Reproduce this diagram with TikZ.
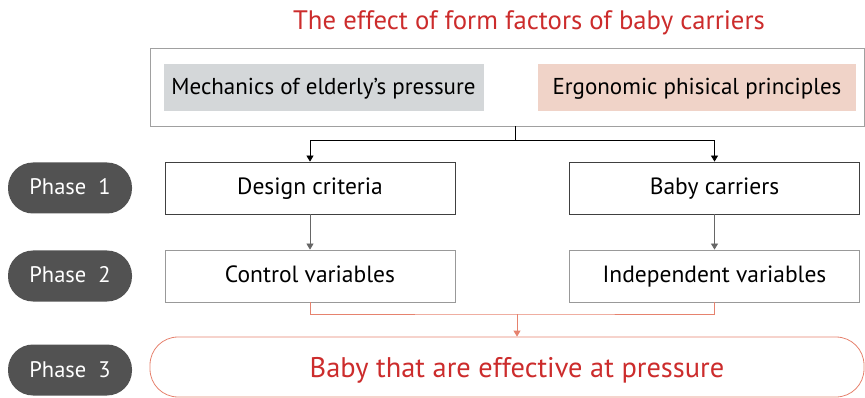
\documentclass[tikz,border=0pt]{standalone}
\usepackage{fontspec}
\setmainfont{PT Sans}
\usetikzlibrary{arrows.meta}

\definecolor{headred}{RGB}{204,44,44}
\definecolor{phasegray}{RGB}{82,82,82}
\definecolor{mechgray}{RGB}{212,215,217}
\definecolor{ergopink}{RGB}{240,211,200}
\definecolor{linkpink}{RGB}{230,130,110}
\definecolor{framegray}{RGB}{160,160,160}

\tikzset{
  even/.style={text height=1.4em, text depth=0pt},
  phasepill/.style={even, fill=phasegray, text=white, rounded corners=25pt,
    minimum width=124pt, minimum height=51pt, font=\fontsize{22.5}{24}\selectfont},
  stepbox/.style={even, draw=black!75, thick, fill=white, minimum width=290pt,
    minimum height=52pt, font=\fontsize{23.5}{25}\selectfont},
  varbox/.style={stepbox, draw=black!40},
  factorbox/.style={even, minimum width=320pt, minimum height=47pt,
    font=\fontsize{23}{25}\selectfont},
  tip/.style={-{Triangle[width=7pt,length=6pt]}}
}

\begin{document}
\begin{tikzpicture}[x=1pt,y=-1pt]
  \useasboundingbox (0,0) rectangle (865,398);

  % title and the two factors
  \node[text=headred, font=\fontsize{26.7}{28}\selectfont] (title) at (529,23)
    {The effect of form factors of baby carriers};
  \node[draw=framegray, thick, minimum width=714pt, minimum height=78pt] (frame) at (507,87) {};
  \node[factorbox, fill=mechgray] (mech) at (323.5,87.5) {Mechanics of elderly’s pressure};
  \node[factorbox, fill=ergopink, minimum width=318pt] (ergo) at (697,87.5) {Ergonomic phisical principles};

  % phases
  \node[phasepill] (phase1) at (70,188) {Phase \ 1};
  \node[phasepill] (phase2) at (70,276) {Phase \ 2};
  \node[phasepill] (phase3) at (70,370) {Phase \ 3};

  \node[stepbox] (design) at (310,188) {Design criteria};
  \node[stepbox] (carrier) at (714.5,188) {Baby carriers};
  \node[varbox] (control) at (310,276) {Control variables};
  \node[varbox] (indep) at (714.5,276) {Independent variables};

  \node[draw=linkpink, thick, rounded corners=28pt, minimum width=714pt,
    minimum height=60pt] (resultbox) at (507,367) {};
  \node[even, text depth=0.2em, text height=0.9em, text=headred, font=\fontsize{28.4}{30}\selectfont] (result) at (517,374)
    {Baby that are effective at pressure};

  % connectors
  \coordinate (split) at (515,140);
  \draw[thick] (split |- frame.south) -- (split);
  \draw[thick, tip] (split) -| (design.north);
  \draw[thick, tip] (split) -| (carrier.north);
  \draw[thick, black!60, tip] (design) -- (control);
  \draw[thick, black!60, tip] (carrier) -- (indep);

  \coordinate (join) at (517,314);
  \draw[thick, linkpink] (control.south) |- (join) -| (indep.south);
  \draw[thick, linkpink, tip] (join) -- (join |- resultbox.north);
\end{tikzpicture}
\end{document}
